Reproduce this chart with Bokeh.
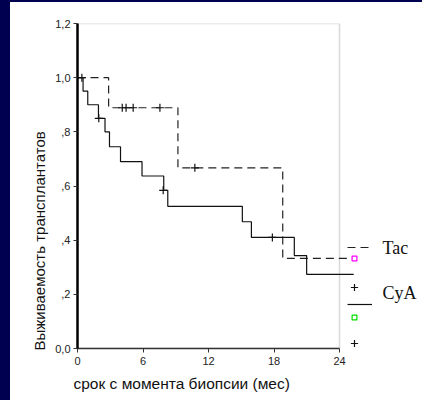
import math
from bokeh.plotting import figure
from bokeh.models import (Range1d, FixedTicker, Label, Legend, LegendItem,
                          BoxAnnotation, ColumnDataSource, Title)
from bokeh.embed import file_html
from bokeh.resources import INLINE

# ---- data (months, survival) ----
tac_t = [0, 2.85, 9.2, 18.8, 25.3]
tac_s = [1.0, 0.889, 0.667, 0.333, 0.333]
tac_cens_t = [4.1, 4.45, 5.1, 7.55, 10.75]
tac_cens_s = [0.889, 0.889, 0.889, 0.889, 0.667]

cya_t = [0, 0.51, 0.94, 1.92, 2.52, 2.93, 3.94, 5.91, 7.9, 8.27, 15.1, 15.93, 19.86, 20.99, 25.3]
cya_s = [1.0, 0.95, 0.90, 0.85, 0.80, 0.745, 0.69, 0.637, 0.584, 0.525, 0.468, 0.41, 0.343, 0.274, 0.274]
cya_cens_t = [0.4, 1.95, 7.85, 17.85]
cya_cens_s = [1.0, 0.85, 0.584, 0.41]

x_ticks = [0, 6, 12, 18, 24]
y_ticks = [0, 0.2, 0.4, 0.6, 0.8, 1.0, 1.2]
y_tick_labels = ["0,0", ",2", ",4", ",6", ",8", "1,0", "1,2"]
series_names = ["Tac", "CyA"]
x_title = "срок с момента биопсии (мес)"
y_title = "Выживаемость трансплантатов"

FONT = "Liberation Sans"
SERIF = "Liberation Serif"
NAVY = "#000050"

px_per_month = 262.0 / 24.0
frame_w = 344
x_max = frame_w / px_per_month

p = figure(frame_width=frame_w, frame_height=325,
           min_border_left=67, min_border_right=1,
           min_border_top=21, min_border_bottom=52,
           x_range=Range1d(0, x_max), y_range=Range1d(0, 1.2),
           output_backend="svg", toolbar_location=None,
           background_fill_color="white", border_fill_color="white")
p.styles = {"border-left": f"10px solid {NAVY}", "border-top": f"2px solid {NAVY}"}
p.outline_line_color = None
p.xgrid.visible = False
p.ygrid.visible = False

# frame box (0..24 x 0..1.2)
box = BoxAnnotation(left=0, right=24, bottom=0, top=1.2, fill_alpha=0,
                    line_color="#808080", line_width=1.5, level="underlay")
p.add_layout(box)

# axes
xa = p.xaxis[0]
xa.ticker = FixedTicker(ticks=x_ticks)
xa.bounds = (0, 24)
xa.axis_line_color = "#333333"
xa.axis_line_width = 1.5
xa.major_tick_in = 0
xa.major_tick_out = 4
xa.major_tick_line_color = "#333333"
xa.minor_tick_line_color = None
xa.major_label_standoff = 4
xa.major_label_text_font = FONT
xa.major_label_text_font_size = "11px"
xa.major_label_text_color = "#222222"

ya = p.yaxis[0]
ya.ticker = FixedTicker(ticks=y_ticks)
ya.major_label_overrides = {t: l for t, l in zip(y_ticks, y_tick_labels)}
ya.bounds = (0, 1.2)
ya.axis_line_color = "black"
ya.axis_line_width = 2.5
ya.major_tick_in = 0
ya.major_tick_out = 4
ya.major_tick_line_color = "#333333"
ya.minor_tick_line_color = None
ya.major_label_standoff = 3
ya.major_label_text_font = FONT
ya.major_label_text_font_size = "11px"
ya.major_label_text_color = "#222222"

# axis titles (placed off-centre like the original)
p.add_layout(Title(text=x_title, align="left", offset=-4, text_font=FONT,
                   text_font_size="15.5px", text_font_style="normal",
                   text_color="#111111", standoff=11), "below")
p.add_layout(Title(text=y_title, align="left", offset=-2, text_font=FONT,
                   text_font_size="15px", text_font_style="normal",
                   text_color="#111111", standoff=10), "left")

# curves
r_tac = p.step(tac_t, tac_s, mode="after", line_color="#222222",
               line_width=1.2, line_dash="8 5")
r_cya = p.step(cya_t, cya_s, mode="after", line_color="#111111", line_width=1.2)
p.scatter(tac_cens_t, tac_cens_s, marker="cross", size=8,
          line_color="#111111", line_width=1.2)
p.scatter(cya_cens_t, cya_cens_s, marker="cross", size=8,
          line_color="#111111", line_width=1.2)

# legend sample renderers (one undrawable NaN point each)
nan_src = dict(x=[float("nan")], y=[float("nan")])
r_sq_m = p.scatter("x", "y", source=ColumnDataSource(nan_src), marker="square",
                   line_color="#ff00ff", fill_color="white", line_width=1.2)
r_sq_g = p.scatter("x", "y", source=ColumnDataSource(nan_src), marker="square",
                   line_color="#00dd00", fill_color="white", line_width=1.2)
r_cross = p.scatter("x", "y", source=ColumnDataSource(nan_src), marker="cross",
                    line_color="#111111", line_width=1.2)


def mini_legend(renderer, vx, vy, w, h):
    lg = Legend(items=[LegendItem(label=" ", renderers=[renderer], index=0)],
                location=(vx, vy), orientation="vertical",
                glyph_width=w, glyph_height=h, label_width=0, label_height=h,
                label_standoff=0, padding=0, margin=0, spacing=0,
                border_line_color=None, background_fill_alpha=0,
                label_text_font_size="1px")
    p.add_layout(lg)


mini_legend(r_tac, 270, 96, 25, 10)
mini_legend(r_sq_m, 271, 84, 12, 12)
mini_legend(r_cross, 268, 52, 18, 18)
mini_legend(r_cya, 270, 39, 25, 10)
mini_legend(r_sq_g, 271, 25, 12, 12)
mini_legend(r_cross, 268, -4, 18, 18)

for name, yy in zip(series_names, [101, 56]):
    p.add_layout(Label(x=305, y=yy, x_units="screen", y_units="screen",
                       text=name, text_font=SERIF, text_font_size="18px",
                       text_baseline="middle", text_align="left",
                       text_color="#111111"))

open("out.html", "w").write(file_html(p, INLINE))
